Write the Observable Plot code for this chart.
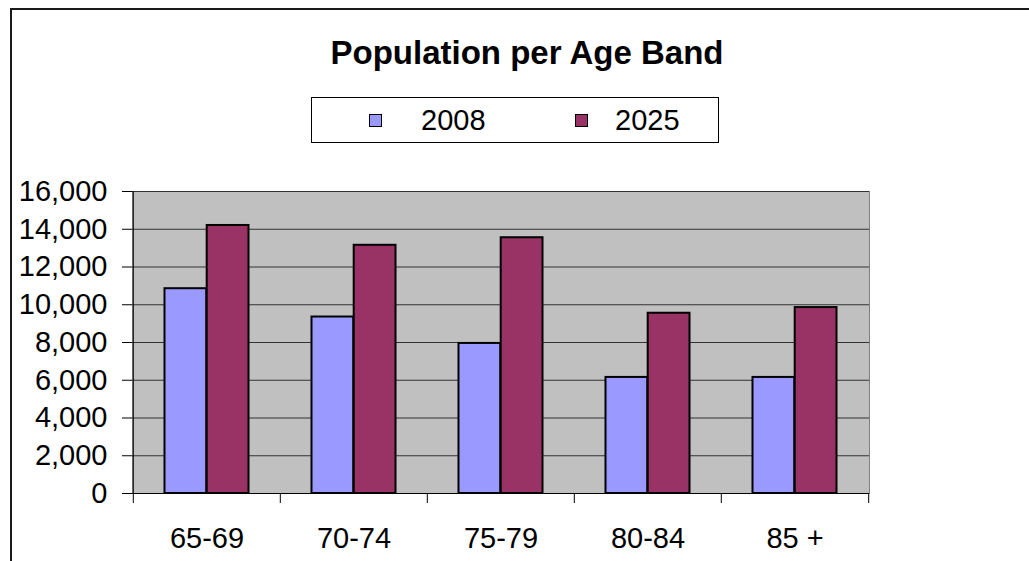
<!DOCTYPE html>
<html>
<head>
<meta charset="utf-8">
<script src="https://cdn.jsdelivr.net/npm/d3@7"></script>
<script src="https://cdn.jsdelivr.net/npm/@observablehq/plot@0.6"></script>
<style>
  html, body { margin: 0; padding: 0; background: #fff; }
  body { width: 1029px; height: 561px; position: relative; overflow: hidden; font-family: "Liberation Sans", Arial, sans-serif; }
  #border { position: absolute; left: 10px; top: 8px; width: 1100px; height: 600px; border-top: 2px solid #1a1a1a; border-left: 2px solid #1a1a1a; }
  #title { position: absolute; left: 527px; top: 36px; transform: translateX(-50%); font-size: 33px; font-weight: bold; line-height: 1; white-space: nowrap; color: #000; }
  #legend { position: absolute; left: 311px; top: 97px; width: 408px; height: 46px; box-sizing: border-box; border: 1px solid #000; background: #fff; }
  #legend .sw { position: absolute; top: 16px; width: 13px; height: 13px; box-sizing: border-box; border: 1px solid #000; }
  #legend .lb { position: absolute; top: 8px; font-size: 29px; line-height: 1; color: #000; }
  #chart { position: absolute; left: 0; top: 160px; }
</style>
</head>
<body>
<div id="border"></div>
<div id="title">Population per Age Band</div>
<div id="legend"></div>
<div id="chart"></div>
<script>
const categories = ["65-69", "70-74", "75-79", "80-84", "85 +"];
const series = ["2008", "2025"];
const values2008 = [10850, 9350, 7950, 6150, 6150];
const values2025 = [14200, 13150, 13550, 9550, 9850];
const seriesColors = ["#9999ff", "#993366"];
const yTicks = [0, 2000, 4000, 6000, 8000, 10000, 12000, 14000, 16000];

const rows2008 = categories.map((c, i) => ({cat: c, series: "2008", value: values2008[i]}));
const rows2025 = categories.map((c, i) => ({cat: c, series: "2025", value: values2025[i]}));

// Legend
const legend = document.getElementById("legend");
const swX = [57, 263], lbX = [109, 303];
series.forEach((s, i) => {
  const sw = document.createElement("div");
  sw.className = "sw"; sw.style.left = swX[i] + "px"; sw.style.background = seriesColors[i];
  const lb = document.createElement("div");
  lb.className = "lb"; lb.style.left = lbX[i] + "px"; lb.textContent = s;
  legend.appendChild(sw); legend.appendChild(lb);
});

const width = 1029, height = 401;
const marginLeft = 132, marginRight = 160, marginTop = 31, marginBottom = 68;
const bw = (width - marginLeft - marginRight) / categories.length;
const barW = bw * 0.2863;
const outer = (bw - 2 * barW) / 2;

const chart = Plot.plot({
  width, height, marginLeft, marginRight, marginTop, marginBottom,
  style: {fontFamily: "'Liberation Sans', Arial, sans-serif", fontSize: "29px", color: "#000", background: "transparent"},
  x: {type: "band", domain: categories, padding: 0, label: null},
  y: {domain: [0, 16000], label: null},
  marks: [
    Plot.frame({fill: "#c0c0c0", stroke: "#808080"}),
    Plot.gridY({ticks: yTicks, stroke: "#333", strokeOpacity: 1, strokeWidth: 1}),
    Plot.barY(rows2008, {x: "cat", y: "value", fill: seriesColors[0], stroke: "#000", strokeWidth: 2, insetLeft: outer, insetRight: outer + barW}),
    Plot.barY(rows2025, {x: "cat", y: "value", fill: seriesColors[1], stroke: "#000", strokeWidth: 2, insetLeft: outer + barW, insetRight: outer}),
    Plot.ruleY([0], {stroke: "#000"}),
    Plot.ruleX([categories[0]], {stroke: "#000", dx: -bw / 2}),
    Plot.axisY({ticks: yTicks, tickSize: 10, tickPadding: 15, tickFormat: d3.format(","), label: null}),
    Plot.axisX({tickSize: 0, tickPadding: 34, label: null}),
    Plot.axisX({ticks: categories, tickSize: 10, tickFormat: () => "", dx: -bw / 2, label: null}),
    Plot.axisX({ticks: [categories[categories.length - 1]], tickSize: 10, tickFormat: () => "", dx: bw / 2, label: null})
  ]
});
document.getElementById("chart").appendChild(chart);
</script>
</body>
</html>
